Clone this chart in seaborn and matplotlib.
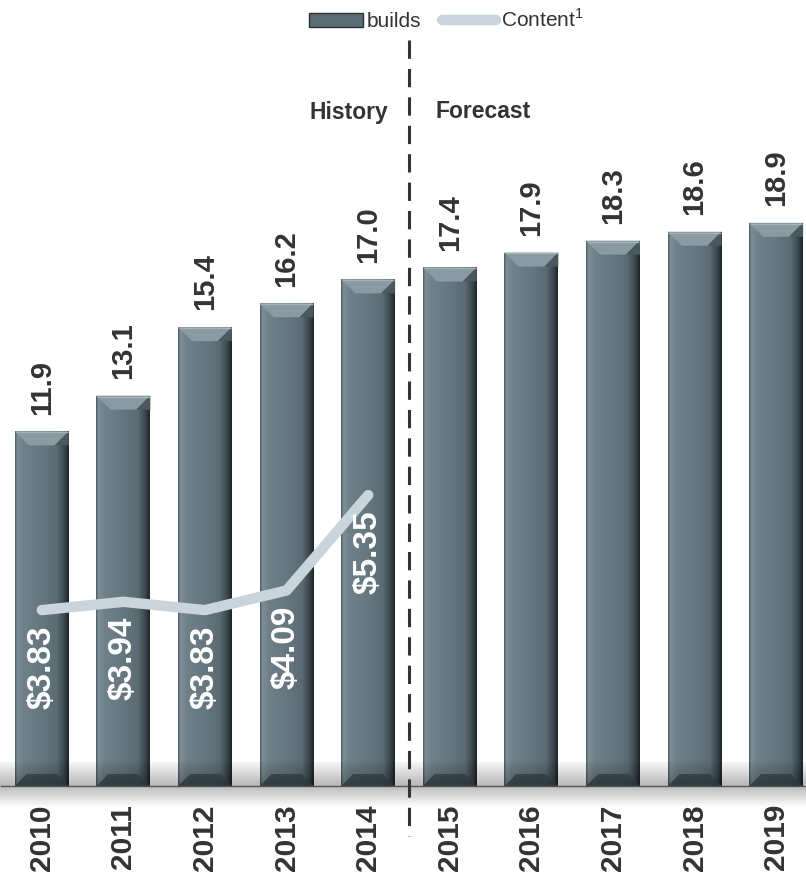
import numpy as np
import pandas as pd
import matplotlib
matplotlib.use("Agg")
import matplotlib.pyplot as plt
import seaborn as sns
from matplotlib.patches import Polygon, Patch
from matplotlib.lines import Line2D
from matplotlib.colors import LinearSegmentedColormap

# ---- data -------------------------------------------------------------
years = ["2010", "2011", "2012", "2013", "2014",
         "2015", "2016", "2017", "2018", "2019"]
builds = [11.9, 13.1, 15.4, 16.2, 17.0, 17.4, 17.9, 18.3, 18.6, 18.9]
content_years = ["2010", "2011", "2012", "2013", "2014"]
content = [3.83, 3.94, 3.83, 4.09, 5.35]

df = pd.DataFrame({"year": years, "builds": builds})

# ---- style ------------------------------------------------------------
sns.set_theme(style="white")
plt.rcParams["font.family"] = ["Liberation Sans", "DejaVu Sans"]
plt.rcParams["mathtext.fontset"] = "custom"
plt.rcParams["mathtext.rm"] = "Liberation Sans"

TEXT = "#333331"
BAR = "#66777f"
LINE = "#cad4dc"

W, H = 806, 872
fig = plt.figure(figsize=(W / 100, H / 100), dpi=100)
fig.patch.set_facecolor("white")
ax = fig.add_axes([1 / W, (H - 786) / H, 816 / W, 686 / H])

sns.barplot(data=df, x="year", y="builds", color=BAR, saturation=1,
            width=0.66, ax=ax, zorder=2)
YMAX = 23.02
ax.set_xlim(-0.5, 9.5)
ax.set_ylim(0, YMAX)

# ---- bevelled bar shading -------------------------------------------------
shade = LinearSegmentedColormap.from_list(
    "shade",
    [(0.00, "#4c5c64"), (0.04, "#7e8e96"), (0.16, "#6f8088"),
     (0.50, "#66777f"), (0.78, "#5b6b73"), (0.92, "#3a464c"),
     (1.00, "#1e2528")])
grad = shade(np.linspace(0, 1, 128))[None, :, :]
px_x = 81.6          # pixels per category
px_y = 686 / YMAX    # pixels per unit
for p in list(ax.patches):
    x0, w, h = p.get_x(), p.get_width(), p.get_height()
    x1 = x0 + w
    im = ax.imshow(grad, extent=(x0, x1, 0, h), aspect="auto",
                   interpolation="bilinear", zorder=2.1)
    im.set_clip_path(p)
    d, dy = 14 / px_x, 14 / px_y
    top = Polygon([(x0, h), (x1, h), (x1 - d, h - dy), (x0 + d, h - dy)],
                  closed=True, facecolor="#8a9aa2", edgecolor="none",
                  zorder=2.2)
    ax.add_patch(top)
    rside = Polygon([(x1, h), (x1 - d, h - dy), (x1, h - dy)], closed=True,
                    facecolor="#4a585f", edgecolor="none", zorder=2.25)
    ax.add_patch(rside)
    ax.plot([x0 + 0.01, x1 - 0.01], [h - 0.03, h - 0.03], color="#a3b1b8",
            lw=1, zorder=2.3, solid_capstyle="butt")
    bd = 12 / px_y
    bot = Polygon([(x0, 0), (x1, 0), (x1 - 12 / px_x, bd), (x0 + 12 / px_x, bd)],
                  closed=True, facecolor="#3c4a51", edgecolor="none",
                  alpha=0.8, zorder=2.2)
    ax.add_patch(bot)

# soft floor shadow along the baseline
yy = np.linspace(1, 0, 64)
alpha = np.where(yy > 0.5, 0.04 + (1 - yy) * 2 * 0.24, yy * 2 * 0.28)
band = np.zeros((64, 2, 4))
band[..., 3] = alpha[:, None]
ax.imshow(band, extent=(-0.6, 9.6, -22 / px_y, 24 / px_y), aspect="auto",
          interpolation="bilinear", zorder=3, clip_on=False)
ax.set_xlim(-0.5, 9.5)
ax.set_ylim(0, YMAX)

# value labels on bars
ax.bar_label(ax.containers[0], fmt="%.1f", rotation=90, padding=12,
             fontsize=21, fontweight="bold", color=TEXT, zorder=5)

# history / forecast divider
ax.plot([4.5, 4.5], [(786 - 40) / px_y, -(836 - 786) / px_y], color=TEXT,
        lw=2.2, dashes=(6, 3.3), clip_on=False, zorder=4)
ax.text(4.24, (786 - 112) / px_y, "History", ha="right", va="center",
        fontsize=16.5, fontweight="bold", color=TEXT)
ax.text(4.83, (786 - 112) / px_y, "Forecast", ha="left", va="center",
        fontsize=16.5, fontweight="bold", color=TEXT)

# axes cosmetics
sns.despine(ax=ax, left=True)
ax.spines["bottom"].set_color("#555555")
ax.spines["bottom"].set_linewidth(1)
ax.spines["bottom"].set_zorder(3.5)
ax.set_xlabel("")
ax.set_ylabel("")
ax.set_yticks([])
ax.tick_params(axis="x", length=0, pad=13, labelsize=21.5, labelcolor=TEXT)
for lab in ax.get_xticklabels():
    lab.set_rotation(90)
    lab.set_fontweight("bold")

# ---- content line on a secondary scale ---------------------------------
ax2 = ax.twinx()
ax2.set_ylim(1.506, 10.57)
xpos = np.arange(len(content_years))
sns.lineplot(x=xpos, y=content, ax=ax2, color=LINE, linewidth=7.5,
             solid_capstyle="round", solid_joinstyle="round")
for xi, v in zip(xpos, content):
    ax2.annotate(f"${v:.2f}", (xi, v), xytext=(0, -15),
                 textcoords="offset pixels", rotation=90, ha="center",
                 va="top", fontsize=24, fontweight="bold", color="white")
ax2.set_yticks([])
ax2.set_ylabel("")
for s in ax2.spines.values():
    s.set_visible(False)
ax2.set_xlim(-0.5, 9.5)

# ---- legend -------------------------------------------------------------
handles = [Patch(facecolor="#5d6d75", edgecolor="#2a3236", linewidth=1),
           Line2D([], [], color=LINE, lw=7.5, solid_capstyle="round")]
fig.legend(handles, ["builds", "Content$^1$"], loc="center",
           bbox_to_anchor=(446 / W, 1 - 20 / H), ncol=2, frameon=False,
           fontsize=15, handlelength=2.6, handleheight=0.6,
           handletextpad=0.2, columnspacing=1.0, labelcolor=TEXT)

fig.savefig("out.png", dpi=100, facecolor="white")
